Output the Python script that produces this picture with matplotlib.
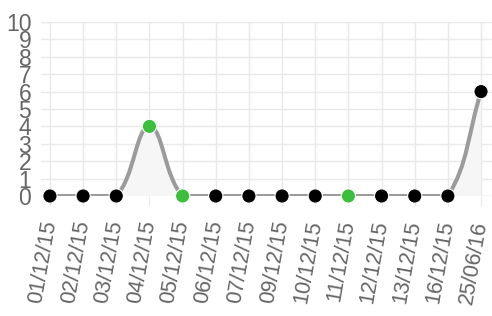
import numpy as np
import matplotlib.pyplot as plt
from matplotlib.path import Path
from matplotlib.patches import PathPatch

plt.rcParams['font.family'] = ['Liberation Sans', 'DejaVu Sans']

dates = ['01/12/15', '02/12/15', '03/12/15', '04/12/15', '05/12/15', '06/12/15',
         '07/12/15', '09/12/15', '10/12/15', '11/12/15', '12/12/15', '13/12/15',
         '16/12/15', '25/06/16']
values = [0, 0, 0, 4, 0, 0, 0, 0, 0, 0, 0, 0, 0, 6]
highlight = [False, False, False, True, True, False, False, False, False, True,
             False, False, False, False]
y_ticks = list(range(0, 11))

GREEN = '#3cbf3c'
LINE = '#9b9b9b'
GRID = '#e9e9e9'
TEXT = '#666666'

fig = plt.figure(figsize=(4.92, 3.16), dpi=100)
ax = fig.add_axes([41 / 492, (316 - 196) / 316, 1 - 41 / 492, (196 - 22) / 316])

x = np.arange(len(values), dtype=float)
y = np.array(values, dtype=float)

# bezier control points, chart.js style (tension 0.4), distances in pixel units
sx, sy = 33.1, 17.4
tension = 0.4
ctrl_in, ctrl_out = [], []
for i in range(len(x)):
    p0 = (x[max(i - 1, 0)], y[max(i - 1, 0)])
    p1 = (x[i], y[i])
    p2 = (x[min(i + 1, len(x) - 1)], y[min(i + 1, len(x) - 1)])
    d01 = np.hypot((p1[0] - p0[0]) * sx, (p1[1] - p0[1]) * sy)
    d12 = np.hypot((p2[0] - p1[0]) * sx, (p2[1] - p1[1]) * sy)
    tot = d01 + d12 if d01 + d12 > 0 else 1
    fa = tension * d01 / tot
    fb = tension * d12 / tot
    dx, dy = p2[0] - p0[0], p2[1] - p0[1]
    ci = (p1[0] - fa * dx, min(max(p1[1] - fa * dy, 0), 10))
    co = (p1[0] + fb * dx, min(max(p1[1] + fb * dy, 0), 10))
    ctrl_in.append(ci)
    ctrl_out.append(co)

verts = [(x[0], y[0])]
codes = [Path.MOVETO]
for i in range(1, len(x)):
    verts += [ctrl_out[i - 1], ctrl_in[i], (x[i], y[i])]
    codes += [Path.CURVE4] * 3

line_path = Path(verts, codes)
fill_verts = verts + [(x[-1], 0), (x[0], 0), (x[0], y[0])]
fill_codes = codes + [Path.LINETO, Path.LINETO, Path.CLOSEPOLY]
ax.add_patch(PathPatch(Path(fill_verts, fill_codes), facecolor='#f6f6f6',
                       edgecolor='none', zorder=2))
ax.add_patch(PathPatch(line_path, facecolor='none', edgecolor=LINE, lw=2.9,
                       zorder=3, capstyle='round'))

colors = [GREEN if h else 'black' for h in highlight]
ax.scatter(x, y, s=105, c=colors, edgecolors='white', linewidths=0.8,
           zorder=5, clip_on=False)

ax.set_xlim(-0.27, len(x) - 1 + 0.33)
ax.set_ylim(0, 10)
ax.set_yticks(y_ticks)
ax.set_xticks(x)
ax.set_xticklabels(dates, rotation=80, ha='right', va='center',
                   rotation_mode='anchor')
ax.grid(True, color=GRID, lw=1)
ax.set_axisbelow(True)
for s in ax.spines.values():
    s.set_visible(False)
ax.tick_params(axis='x', length=7, color=GRID, pad=11, labelsize=15.5,
               labelcolor=TEXT)
ax.tick_params(axis='y', length=0, pad=7, labelsize=16.5, labelcolor=TEXT)
ax.axhline(0, color=GRID, lw=1, zorder=1)

fig.savefig('out.png', dpi=100)
